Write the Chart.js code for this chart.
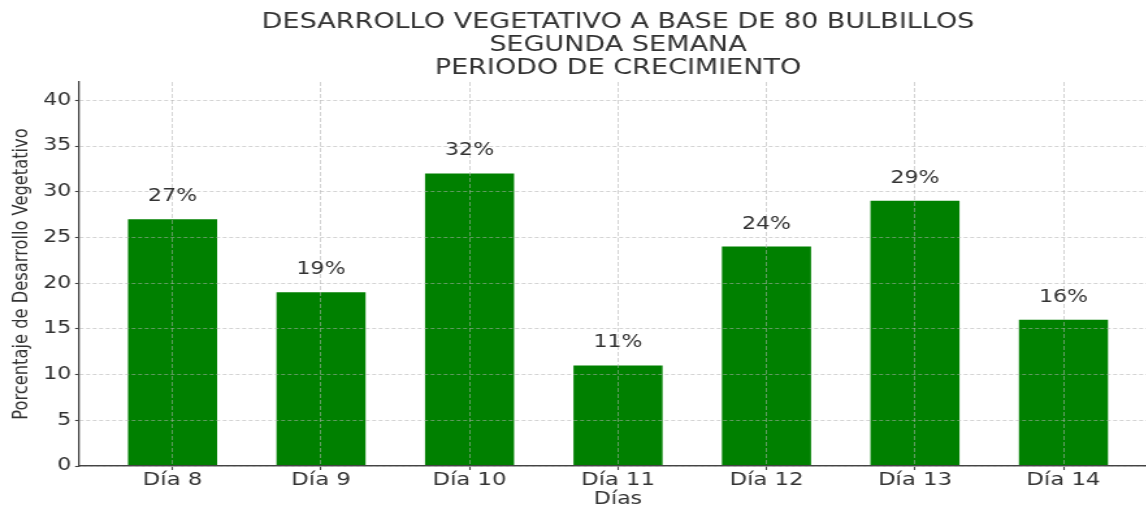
<!DOCTYPE html>
<html><head><meta charset="utf-8">
<script src="https://cdn.jsdelivr.net/npm/chart.js@4"></script>
<style>
html,body{margin:0;padding:0;overflow:hidden;background:#fff;width:1146px;height:506px;}
#wrap{width:890px;height:506px;transform:scaleX(1.3);transform-origin:0 0;}
canvas{display:block;width:890px;height:506px;}
</style></head><body>
<div id="wrap"><canvas id="c" width="890" height="506"></canvas></div>
<script>
const titleLines = ['DESARROLLO VEGETATIVO A BASE DE 80 BULBILLOS', 'SEGUNDA SEMANA', 'PERIODO DE CRECIMIENTO'];
const days = ['Día 8', 'Día 9', 'Día 10', 'Día 11', 'Día 12', 'Día 13', 'Día 14'];
const values = [27, 19, 32, 11, 24, 29, 16];
const yTicks = [0, 5, 10, 15, 20, 25, 30, 35, 40];
const yTitle = 'Porcentaje de Desarrollo Vegetativo';
const xTitle = 'Días';

const FONT = "'DejaVu Sans', sans-serif";
const TEXT = '#333333';
const GRID = 'rgba(176,176,176,0.55)';
const AXIS = '#444444';

const barLabels = {
  id: 'barLabels',
  afterDraw(chart) {
    const ctx = chart.ctx;
    const xs = chart.scales.x, ys = chart.scales.y;
    ctx.save();
    ctx.font = '17px ' + FONT;
    ctx.fillStyle = TEXT;
    ctx.textAlign = 'center';
    ctx.textBaseline = 'alphabetic';
    values.forEach((v, i) => {
      ctx.fillText(v + '%', xs.getPixelForValue(i), ys.getPixelForValue(v) - 18);
    });
    ctx.restore();
  }
};

new Chart(document.getElementById('c'), {
  type: 'bar',
  data: {
    datasets: [{
      data: values.map((v, i) => ({x: i, y: v})),
      backgroundColor: '#008000',
      borderWidth: 0,
      barPercentage: 0.6,
      categoryPercentage: 1
    }]
  },
  options: {
    responsive: false,
    animation: false,
    devicePixelRatio: 1,
    layout: {padding: 0},
    plugins: {
      legend: {display: false},
      tooltip: {enabled: false},
      title: {
        display: true,
        text: titleLines,
        fullSize: false,
        color: TEXT,
        font: {family: FONT, size: 20.8, weight: 'normal', lineHeight: 23 / 20.8},
        padding: {top: 11.5, bottom: 1.5}
      }
    },
    scales: {
      x: {
        type: 'linear',
        min: -0.63,
        max: 6.63,
        offset: false,
        afterBuildTicks: s => { s.ticks = days.map((_, i) => ({value: i})); },
        afterFit: s => { s.height = 40; },
        ticks: {
          autoSkip: false,
          maxRotation: 0,
          padding: 0,
          color: TEXT,
          font: {family: FONT, size: 17.5},
          callback: v => days[v]
        },
        grid: {
          offset: false,
          color: GRID,
          lineWidth: 1,
          tickColor: AXIS,
          tickLength: 4,
          tickWidth: 1.1,
          z: 1
        },
        border: {display: true, color: AXIS, width: 1.6, dash: [4, 2], z: 1},
        title: {
          display: true,
          text: xTitle,
          color: TEXT,
          font: {family: FONT, size: 17, lineHeight: 0.8},
          padding: {top: 0, bottom: 0}
        }
      },
      y: {
        min: 0,
        max: 42,
        afterBuildTicks: s => { s.ticks = yTicks.map(v => ({value: v})); },
        afterFit: s => { s.width = 60.77; },
        ticks: {
          padding: 3,
          color: TEXT,
          font: {family: FONT, size: 17}
        },
        grid: {
          color: GRID,
          lineWidth: 1,
          tickColor: AXIS,
          tickLength: 3,
          tickWidth: 1.1,
          z: 1
        },
        border: {display: true, color: AXIS, width: 1.3, dash: [3, 2], z: 1},
        title: {
          display: true,
          text: yTitle,
          color: TEXT,
          font: {family: FONT, size: 16.3, lineHeight: 1.2},
          padding: {top: 7, bottom: 0}
        }
      }
    }
  },
  plugins: [barLabels]
});
</script>
</body></html>
